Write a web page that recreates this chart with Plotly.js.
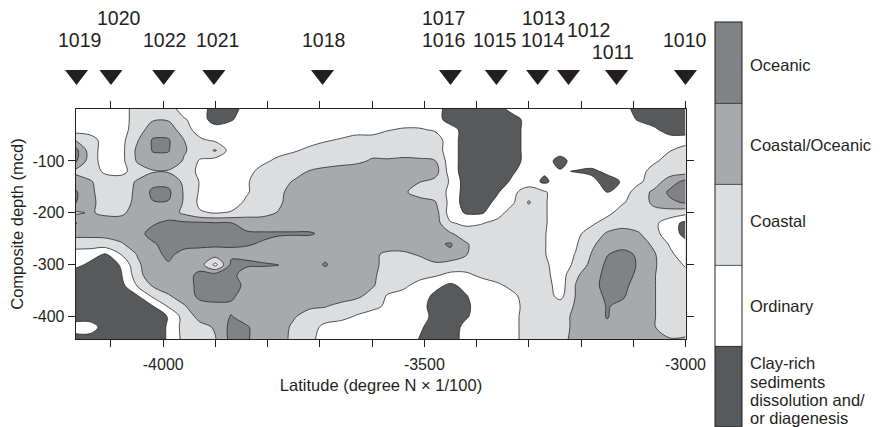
<!DOCTYPE html>
<html>
<head>
<meta charset="utf-8">
<script src="https://cdn.plot.ly/plotly-3.0.1.min.js"></script>
<style>
  html, body { margin: 0; padding: 0; background: #ffffff; }
  #chart { width: 887px; height: 427px; }
</style>
</head>
<body>
<div id="chart"></div>
<script>
// ---- Grid coordinates (latitude in degree N x 1/100, composite depth in mcd) ----
const latitudeGrid = [-4170,-4140,-4110,-4080,-4050,-4020,-3990,-3960,-3930,-3900,-3870,-3840,-3810,-3780,-3750,-3720,-3690,-3660,-3630,-3600,-3570,-3540,-3510,-3480,-3450,-3420,-3390,-3360,-3330,-3300,-3270,-3240,-3210,-3180,-3150,-3120,-3090,-3060,-3030,-3000];
const depthGrid = [0,-20,-40,-60,-80,-100,-120,-140,-160,-180,-200,-220,-240,-260,-280,-300,-320,-340,-360,-380,-400,-420,-445];

// ---- Sediment class index: 0 clay-rich, 1 ordinary, 2 coastal, 3 coastal/oceanic, 4 oceanic ----
const sedimentClass = [
  [1,1,1,1,2,2,2,1,1,0,0,1,1,1,1,1,1,1,1,1,1,1,1,1,0,0,0,0,1,1,1,1,1,1,1,1,0,0,0,0],
  [1,1,1,1,2,2.4,2.4,1.6,1,0,0.4,1,1,1,1,1,1,1,1,1,1,1,1,1,0,0,0,0,0,1,1,1,1,1,1,1,0.4,0,0,0],
  [1,1,1,1.1,2,3,3,2,1,1,1,1,1,1,1,1,1,1,1,1,1.45,1.6,1.6,1.4,1,0,0,0,0,1,1,1,1,1,1,1,1,0.7,0,0],
  [2.55,2,1,1.2,2.4,3.6,3.6,2.5,1.7,1.3,1,1,1,1,1,1.2,1.4,1.6,2,2,2,2,2,2,1,0,0,0,0,1,1,1,1,1,1,1,1,1,1,1],
  [4,2,1,1.2,2.7,3.55,3.55,2.6,2,2.6,1,1,1,1.2,1.4,1.7,2,2,2,2.2,2.3,2.3,2.2,2,1,0,0,0,0,1,1,1,1,1,1,1,1,1,1.45,2],
  [3.8,2,1,1.2,2.6,3.2,3.2,2.4,1.4,1,1,1,1.3,1.7,2,2,2,2.1,2.3,2.6,2.55,2.6,2.6,2.55,1,0,0,0,0,1,1,0.1,1,1,1,1,1,1.3,2,2],
  [2.3,2,1.3,1.2,2,2.4,2.4,2,1.3,1,1,1.2,1.8,2,2,2.55,2.8,3,3,3,3,3,3,3,1,0,0,0,0.4,1,0.65,0.6,0.45,0.3,0.7,1,1,2,2,2],
  [3,2.6,2,2,2.6,3.2,3.2,2.3,1.45,1,1,1.4,2,2,2.6,3,3,3,3,3,3,3,2.55,2.2,1.4,0,0,0,0.7,1,0.3,1,1,0.8,0.1,0.6,1.3,2,3,3.8],
  [3.7,2.7,2,2,2.7,3.7,3.7,2.4,1.4,1,1,1.4,2,2.3,2.8,3,3,3,3,3,3,2.7,2,2,1.3,0,0,0.4,1.3,2,1.6,1,1,1,0.45,1,2,2.7,3.7,4],
  [3.6,2.8,2,2,2.8,3.45,3.45,2.4,1.3,1,1,1.7,2,2.3,3,3,3,3,3,3,3,3,3,2.6,1.2,0,0,0.8,1.4,2.6,1.6,1,1,1,1,1.4,2,2.7,3.3,3.6],
  [2.3,2.6,2.3,2.3,3,3,3,2.3,1.6,1.45,1.6,2,2.2,2.55,3,3,3,3,3,3,3,3,3,3,1,0.4,0.4,1.1,2,2,1.6,1,1,1,1.2,2,2,2.2,2,1.8],
  [3.6,3,3,3,3,3.4,3.7,3.7,3.7,3.6,3.55,3.2,3,3,3,3,3,3,3,3,3,3,3,3,1.6,1.3,1.45,1.8,2,2,1.6,1,1,1.3,2,2,2,1.7,1,0.2],
  [2.8,2.8,2.8,3,3.2,3.8,4,4,4,4,3.8,3.6,3.6,3.6,3.6,3.6,3.3,3,3,3,3,3,3,3,2.6,2,2,2,2,2,1.55,1,1.2,2,2.6,3,2.6,1.8,1,0.2],
  [2,2,2.1,2.4,3,3.4,3.8,3.8,3.8,3.7,3.6,3.55,3.45,3.2,3,3,3,3,3,3,3,3,3,3.3,3.6,2.6,2,2,2,2,1.55,1,1.4,2.3,3,3,3,2.3,1.4,0.8],
  [1,0.9,0.4,1.55,2.55,3.2,3.7,3.2,3,3,3.3,3.3,3.1,3,3,3,3.2,3,3,2.7,2.3,2.3,2.6,3.1,3.3,2.55,2,2,2,2,1.55,1,1.55,2.55,3.45,3.9,3.3,2.6,1.7,1],
  [0.8,0.3,0,0.6,2.3,3.1,3.4,3,3,1.2,3.7,3.65,3.6,3.55,3,3,3.6,3,3,2.9,2,2,2,2.3,2,2,2,2,2,2,1.7,1,1.7,2.8,3.7,4,3.4,2.6,2,1.4],
  [0,0,0,0.45,2,3.3,3,3,3.8,4,3.8,3,3,3,3,3,3,3,3,2.7,2,2,2,1.6,1.3,1.3,1.7,2,2,2,1.8,1,2.3,3.2,3.7,3.9,3.3,2.55,2,1.8],
  [0,0,0,0.2,1.55,2.6,3,3,3.8,4,4,3.2,3,3,3,3,3,3,3,2.6,2,1.8,1,0.8,0.3,0.8,1,1.3,1.8,2,2,1,2.55,3.2,3.8,3.8,3,2.55,2,2],
  [0,0,0,0,0.4,1.7,2.4,3,3.7,3.8,3.7,3,3,3,3,3,3,3,2.7,2.2,1.4,1,1,0.3,0,0.45,1,1,1.3,2,2,1.2,2.55,3,3.7,3.6,3,2.55,2,2],
  [0,0,0,0,0,0.45,1.6,2.4,3.2,3.3,3.3,3,3,3,3,2.7,2.55,2.2,2,1.8,1.3,1,1,0,0,0.3,1,1,1.1,2,2,2,2.6,3,3.55,3.3,3,2.55,2,2],
  [0,0,0,0,0,0,0.55,1.9,2.8,3,3.55,3.1,3,3,2.6,2,2,1.8,1.4,1,1,1,1,0.2,0,0.4,1,1,1.2,2,2,2,2.8,3,3.55,3.1,3,2.55,2,2],
  [1,1,0,0,0,0,0.6,1.9,2.2,2.6,3.8,3.6,3,3,2.3,2,1.2,1,1,1,1,1,0.7,0,0,0.8,1,1,1.2,2,2,2,2.8,3,3.3,3,3,2.55,2,2.2],
  [0,0,0,0,0,0,0.6,1.8,2.3,2.45,3.8,3.6,3,3,2.2,1.8,1,1,1,1,1,1,0.45,0,0,0.9,1,1,1.2,2,2,2.2,2.8,3,3,3,2.7,2.6,2.6,2.6]
];

// ---- Legend classes (label lines, top to bottom) ----
const classLabels = [
  ['Oceanic'],
  ['Coastal/Oceanic'],
  ['Coastal'],
  ['Ordinary'],
  ['Clay-rich', 'sediments', 'dissolution and/', 'or diagenesis']
];

// ---- ODP sites (marker latitude) ----
const siteMarkerLat = [-4166, -4100, -3999, -3903, -3695, -3450, -3362, -3283, -3224, -3132, -3000];
const siteLabels = ['1019', '1020', '1022', '1021', '1018', '1017', '1016', '1015', '1013', '1014', '1012', '1011', '1010'];

// ---- Axis tick labels ----
const xTickVals = [-4100, -4000, -3900, -3800, -3700, -3600, -3500, -3400, -3300, -3200, -3100, -3000];
const xTickText = ['', '-4000', '', '', '', '', '-3500', '', '', '', '', '-3000'];
const yTickVals = [-400, -300, -200, -100];
const yTickText = ['-400', '-300', '-200', '-100'];

// ---- Layout geometry (pixels) ----
const W = 887, H = 427;
const PL = 76, PR = 686, PT = 60, PB = 339, PLOT_TOP = 109;
const px2paperX = px => (px - PL) / (PR - PL);
const px2paperY = py => (PB - py) / (PB - PT);

// site label placement: [latitude of text centre, pixel row]
const labelPlace = {
  '1019': [-4161, 40], '1020': [-4085, 18], '1022': [-3998, 40], '1021': [-3897, 40],
  '1018': [-3694, 40], '1017': [-3464, 18], '1016': [-3464, 40], '1015': [-3364, 40],
  '1013': [-3272, 18], '1014': [-3272, 40], '1012': [-3186, 30], '1011': [-3138, 52],
  '1010': [-3000, 40]
};
// legend label rows (pixel centre of each line)
const legendRows = [[65], [145], [221], [306], [363, 382, 400, 418]];

const FONT = 'Liberation Sans, Arial, Helvetica, sans-serif';
const INK = '#231f20';

const contourTrace = {
  type: 'contour',
  x: latitudeGrid,
  y: depthGrid,
  z: sedimentClass,
  xaxis: 'x', yaxis: 'y',
  autocontour: false,
  contours: { start: 0.5, end: 3.5, size: 1, coloring: 'fill', showlines: true },
  zauto: false, zmin: -0.5, zmax: 4.5,
  colorscale: [[0, '#58595b'], [0.25, '#ffffff'], [0.5, '#dcdddf'], [0.75, '#a7a9ac'], [1, '#808285']],
  line: { color: '#2a2a2a', width: 0.8, smoothing: 1 },
  hoverinfo: 'skip',
  showscale: true,
  colorbar: {
    x: px2paperX(715), xanchor: 'left', xpad: 0,
    y: px2paperY(22), yanchor: 'top', ypad: 0,
    thickness: 27, thicknessmode: 'pixels',
    len: 405, lenmode: 'pixels',
    outlinewidth: 1, outlinecolor: INK,
    showticklabels: false, ticks: ''
  }
};

const siteTrace = {
  type: 'scatter',
  mode: 'markers',
  x: siteMarkerLat,
  y: siteMarkerLat.map(() => 0.57),
  xaxis: 'x', yaxis: 'y2',
  marker: { symbol: 'triangle-down', size: 20, color: INK, line: { width: 0 } },
  cliponaxis: false,
  showlegend: false,
  hoverinfo: 'skip'
};

const annotations = [];
siteLabels.forEach(name => {
  annotations.push({
    x: labelPlace[name][0], xref: 'x',
    y: px2paperY(labelPlace[name][1]), yref: 'paper',
    text: name, showarrow: false,
    xanchor: 'center', yanchor: 'middle',
    font: { family: FONT, size: 19.5, color: INK }
  });
});
classLabels.forEach((lines, k) => {
  lines.forEach((line, m) => {
    annotations.push({
      x: px2paperX(748), xref: 'paper',
      y: px2paperY(legendRows[k][m]), yref: 'paper',
      text: line, showarrow: false,
      xanchor: 'left', yanchor: 'middle',
      font: { family: FONT, size: 16.5, color: INK }
    });
  });
});

const layout = {
  width: W, height: H,
  margin: { l: PL, r: W - PR, t: PT, b: H - PB, pad: 0 },
  paper_bgcolor: '#ffffff', plot_bgcolor: 'rgba(0,0,0,0)',
  font: { family: FONT, color: INK, size: 16 },
  showlegend: false,
  xaxis: {
    range: [-4167, -2999], autorange: false,
    anchor: 'y',
    tickmode: 'array', tickvals: xTickVals, ticktext: xTickText,
    ticks: 'outside', ticklen: 7, tickwidth: 1, tickcolor: INK,
    ticklabelstandoff: 3,
    showline: true, linecolor: INK, linewidth: 1.3, mirror: 'ticks',
    showgrid: false, zeroline: false,
    tickfont: { family: FONT, size: 16, color: INK },
    title: { text: 'Latitude (degree N × 1/100)', font: { family: FONT, size: 16.5, color: INK }, standoff: 8 }
  },
  yaxis: {
    domain: [0, (PB - PLOT_TOP) / (PB - PT)],
    range: [-443, 0], autorange: false,
    anchor: 'x',
    tickmode: 'array', tickvals: yTickVals, ticktext: yTickText,
    ticks: 'outside', ticklen: 7, tickwidth: 1, tickcolor: INK,
    showline: true, linecolor: INK, linewidth: 1.3, mirror: 'ticks',
    showgrid: false, zeroline: false,
    tickfont: { family: FONT, size: 16, color: INK },
    title: { text: 'Composite depth (mcd)', font: { family: FONT, size: 16.5, color: INK }, standoff: 4 }
  },
  yaxis2: {
    domain: [(PB - 95) / (PB - PT), 1],
    range: [0, 1], autorange: false,
    anchor: 'x',
    visible: false, showgrid: false, zeroline: false, fixedrange: true
  },
  annotations: annotations
};

Plotly.newPlot('chart', [contourTrace, siteTrace], layout, { staticPlot: true, displayModeBar: false });
</script>
</body>
</html>
